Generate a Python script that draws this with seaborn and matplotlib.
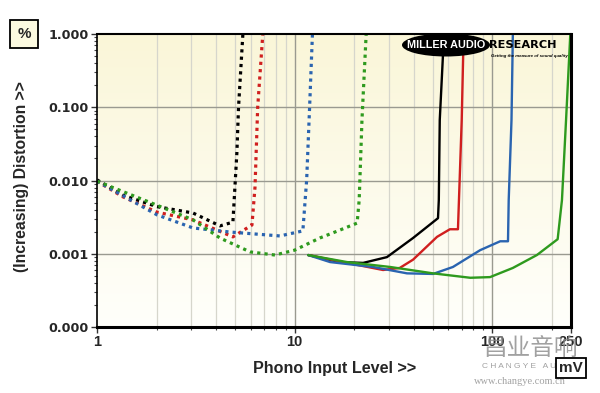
import numpy as np
import pandas as pd
import matplotlib
matplotlib.use("Agg")
import matplotlib.pyplot as plt
import seaborn as sns
from matplotlib.patches import Ellipse
from matplotlib.colors import LinearSegmentedColormap

# ---- data ----
mm_black_x = [1.0, 1.35, 2.01, 3.06, 4.19, 4.87, 5.1, 5.2, 5.47, 5.6]
mm_black_y = [0.0102, 0.0063, 0.0044, 0.0036, 0.0024, 0.0027, 0.0237, 0.1, 1.0, 1.5]
mm_red_x = [1.0, 1.35, 2.01, 3.06, 4.87, 6.08, 6.3, 6.5, 6.9, 7.0]
mm_red_y = [0.0098, 0.0060, 0.0037, 0.0029, 0.0017, 0.00247, 0.0081, 0.1, 1.0, 1.5]
mm_blue_x = [1.0, 2.01, 3.06, 4.71, 8.42, 11.0, 11.5, 11.9, 12.3, 12.4]
mm_blue_y = [0.0098, 0.0034, 0.00225, 0.00198, 0.00175, 0.00205, 0.0102, 0.1, 1.0, 1.5]
mm_green_x = [1.0, 2.01, 3.06, 4.19, 5.95, 7.95, 10.0, 13.4, 16.9, 20.7, 21.2, 21.9, 23.0, 23.2]
mm_green_y = [0.0098, 0.0046, 0.0029, 0.00164, 0.00106, 0.00096, 0.00112, 0.00164, 0.0021,
              0.00262, 0.0054, 0.067, 1.0, 1.5]

mc_black_x = [11.7, 16.9, 22.2, 29.3, 39.7, 53.1, 53.6, 54.2, 56.2, 57.0]
mc_black_y = [0.00096, 0.00077, 0.00075, 0.0009, 0.00164, 0.00306, 0.0054, 0.067, 0.485, 1.5]
mc_red_x = [11.7, 18.4, 28.0, 34.0, 39.7, 52.5, 61.0, 67.0, 67.5, 70.0, 71.6, 72.0]
mc_red_y = [0.00096, 0.00075, 0.0006, 0.00064, 0.00083, 0.0017, 0.00216, 0.00216, 0.0039,
            0.067, 1.0, 1.5]
mc_blue_x = [11.7, 15.1, 24.9, 37.0, 50.1, 63.2, 86.8, 109.6, 120.0, 121.0, 125.0, 127.0, 128.0]
mc_blue_y = [0.00096, 0.00077, 0.00066, 0.00054, 0.00053, 0.00066, 0.00112, 0.00148, 0.00148,
             0.0054, 0.067, 1.0, 1.5]
mc_green_x = [11.7, 18.4, 30.4, 50.1, 77.3, 97.4, 127.0, 168.0, 214.0, 225.0, 236.0, 248.0, 250.0]
mc_green_y = [0.00096, 0.00077, 0.00066, 0.00054, 0.00047, 0.00048, 0.00064, 0.00096, 0.00158,
              0.0054, 0.067, 1.0, 1.5]

x_ticks = [1, 10, 100, 250]
x_tick_labels = ["1", "10", "100", "250"]
y_ticks = [0.0001, 0.001, 0.01, 0.1, 1.0]
y_tick_labels = ["0.000", "0.001", "0.010", "0.100", "1.000"]

BLACK = "#000000"
RED = "#d01f1f"
BLUE = "#2a64b0"
GREEN = "#2e9a1e"

series = [
    ("mm_black", mm_black_x, mm_black_y, BLACK, "dot"),
    ("mm_red", mm_red_x, mm_red_y, RED, "dot"),
    ("mm_blue", mm_blue_x, mm_blue_y, BLUE, "dot"),
    ("mm_green", mm_green_x, mm_green_y, GREEN, "dot"),
    ("mc_black", mc_black_x, mc_black_y, BLACK, "solid"),
    ("mc_red", mc_red_x, mc_red_y, RED, "solid"),
    ("mc_blue", mc_blue_x, mc_blue_y, BLUE, "solid"),
    ("mc_green", mc_green_x, mc_green_y, GREEN, "solid"),
]

sns.set_theme(style="white")
plt.rcParams["font.family"] = ["Liberation Sans", "DejaVu Sans"]

fig = plt.figure(figsize=(6.0, 3.93), dpi=100)
fig.patch.set_facecolor("white")
ax = fig.add_axes([97 / 600, 1 - 327 / 393, (571 - 97) / 600, (327 - 34) / 393])

# gradient background (pale yellow at top to near white at bottom)
grad = np.linspace(0, 1, 256).reshape(-1, 1)
cmap = LinearSegmentedColormap.from_list("bg", ["#fffffb", "#faf6d8"])
ax.imshow(grad, extent=[0, 1, 0, 1], transform=ax.transAxes, cmap=cmap,
          aspect="auto", origin="lower", zorder=0)

ax.set_xscale("log")
ax.set_yscale("log")
ax.set_xlim(1, 250)
ax.set_ylim(0.0001, 1.0)

# grid lines
for m in [2, 3, 4, 5, 6, 7, 8, 9, 20, 30, 40, 50, 60, 70, 80, 90, 200]:
    ax.axvline(m, color="#d6d6cc", lw=0.9, zorder=1)
for m in [10, 100]:
    ax.axvline(m, color="#9a9a90", lw=1.0, zorder=1)
for m in [0.001, 0.01, 0.1]:
    ax.axhline(m, color="#9a9a90", lw=1.0, zorder=1)

for name, xs, ys, col, st in series:
    df = pd.DataFrame({"x": xs, "y": ys})
    if st == "dot":
        sns.lineplot(data=df, x="x", y="y", ax=ax, color=col, lw=2.3,
                     estimator=None, sort=False, zorder=3,
                     dashes=False, linestyle=(0, (1.0, 1.3)))
    else:
        sns.lineplot(data=df, x="x", y="y", ax=ax, color=col, lw=1.7,
                     estimator=None, sort=False, zorder=3)

ax.set_xlabel("")
ax.set_ylabel("")

# ticks
ax.set_xticks(x_ticks)
ax.set_xticklabels(x_tick_labels, fontsize=10.5, fontweight="bold")
ax.set_yticks(y_ticks)
ax.set_yticklabels(y_tick_labels, fontsize=9.2, fontweight="bold",
                   family=["DejaVu Sans"])
minor_x = [m * d for d in [1, 10, 100] for m in range(2, 10) if m * d < 250]
ax.set_xticks(minor_x, minor=True)
ax.xaxis.set_minor_formatter(matplotlib.ticker.NullFormatter())
minor_y = [m * d for d in [0.0001, 0.001, 0.01, 0.1] for m in range(2, 10)]
ax.set_yticks(minor_y, minor=True)
ax.yaxis.set_minor_formatter(matplotlib.ticker.NullFormatter())
ax.tick_params(axis="both", which="major", direction="out", length=4, width=1,
               color="#333333", pad=2, bottom=True, left=True)
ax.tick_params(axis="both", which="minor", direction="out", length=2.5, width=0.8,
               color="#444444", bottom=True, left=True)

for side, sp in ax.spines.items():
    sp.set_visible(True)
    sp.set_color("black")
    sp.set_zorder(5)
ax.spines["left"].set_linewidth(1.2)
ax.spines["top"].set_linewidth(1.5)
ax.spines["right"].set_linewidth(2.2)
ax.spines["bottom"].set_linewidth(2.2)

# axis labels
fig.text(335 / 600, 1 - 368 / 393, "Phono Input Level >>", ha="center", va="center",
         fontsize=11.6, fontweight="bold")
fig.text(22 / 600, 1 - 177 / 393, "(Increasing) Distortion >>", ha="center", va="center",
         rotation=90, fontsize=11.3, fontweight="bold")

# unit boxes
fig.text(24 / 600, 1 - 34 / 393, "%", ha="center", va="center", fontsize=11,
         fontweight="bold",
         bbox=dict(boxstyle="square,pad=0.45", facecolor="#fcfae0", edgecolor="black", lw=1.3))
fig.text(571 / 600, 1 - 368 / 393, "mV", ha="center", va="center", fontsize=11,
         fontweight="bold", zorder=13,
         bbox=dict(boxstyle="square,pad=0.2", facecolor="white", edgecolor="black", lw=1.3))

# logo
ell = Ellipse((446 / 600, 1 - 45 / 393), 88 / 600, 23 / 393, transform=fig.transFigure,
              facecolor="black", edgecolor="none", zorder=10)
fig.patches.append(ell)
fig.text(446 / 600, 1 - 45 / 393, "MILLER AUDIO", ha="center", va="center", color="white",
         fontsize=7.8, fontweight="heavy", zorder=11)
fig.text(489 / 600, 1 - 45 / 393, "RESEARCH", ha="left", va="center", color="black",
         fontsize=8.2, fontweight="heavy", family=["DejaVu Sans"], zorder=11)
fig.text(568 / 600, 1 - 56 / 393, "Getting the measure of sound quality", ha="right",
         va="center", color="black", fontsize=3.2, fontstyle="italic", fontweight="bold",
         zorder=11)

# watermark text
fig.text(530 / 600, 1 - 348 / 393, "昌业音响", ha="center", va="center", color="#8a8a8a",
         fontsize=17, family=["Noto Sans CJK SC", "DejaVu Sans"], alpha=0.8, zorder=12)
fig.text(530 / 600, 1 - 366 / 393, "C H A N G Y E   A U D I O", ha="center", va="center",
         color="#8a8a8a", fontsize=6, alpha=0.8, zorder=12)
fig.text(520 / 600, 1 - 381 / 393, "www.changye.com.cn", ha="center", va="center",
         color="#8a8a8a", fontsize=7.5, family=["Liberation Serif", "DejaVu Serif"],
         alpha=0.8, zorder=12)

fig.savefig("out.png", dpi=100)
